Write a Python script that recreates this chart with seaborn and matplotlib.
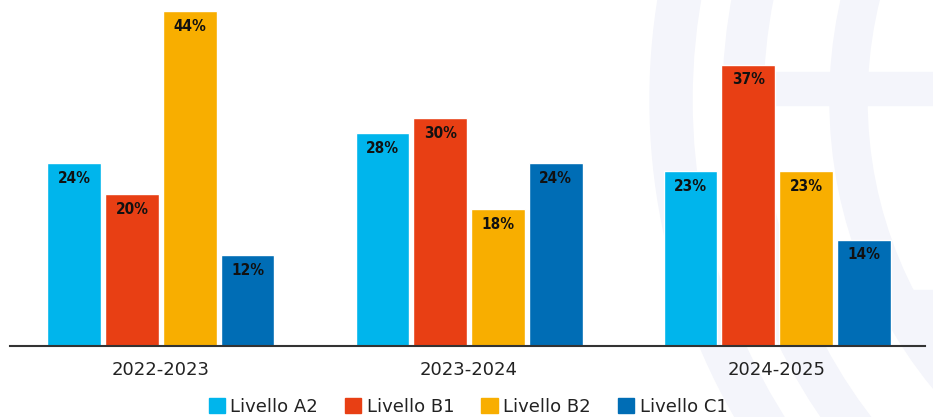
import matplotlib
matplotlib.use('Agg')
import matplotlib.pyplot as plt
from matplotlib.patches import Wedge, Rectangle
import seaborn as sns
import pandas as pd

# dati: percentuali per livello e anno
anni = ['2022-2023', '2023-2024', '2024-2025']
livelli = ['Livello A2', 'Livello B1', 'Livello B2', 'Livello C1']
a2 = [24, 28, 23]
b1 = [20, 30, 37]
b2 = [44, 18, 23]
c1 = [12, 24, 14]
colori = ['#00B5EC', '#E83F14', '#F8AE00', '#006DB5']

righe = []
for liv, vals in zip(livelli, [a2, b1, b2, c1]):
    for anno, v in zip(anni, vals):
        righe.append({'anno': anno, 'livello': liv, 'valore': v})
df = pd.DataFrame(righe)

sns.set_style('white')
plt.rcParams['font.family'] = ['DejaVu Sans']

fig = plt.figure(figsize=(9.33, 4.17), dpi=100)

# filigrana di sfondo (archi chiari), dietro al grafico
wm = '#F4F5FB'
for r, w in [(634, 42), (561, 40), (454, 37)]:
    fig.patches.append(Wedge((1284, 317), r, 90, 270, width=w, color=wm,
                             transform=None, zorder=-2))
fig.patches.append(Rectangle((763, 312), 180, 33, color=wm, transform=None, zorder=-2))
fig.patches.append(Rectangle((895, 94), 45, 33, color=wm, transform=None, zorder=-2))

ax = fig.add_axes([10 / 933, 71 / 417, 915 / 933, 346 / 417])
ax.set_facecolor('none')

sns.barplot(data=df, x='anno', y='valore', hue='livello', hue_order=livelli,
            order=anni, palette=colori, width=0.75, gap=0.07, ax=ax,
            saturation=1, errorbar=None, legend=False)

for cont in ax.containers:
    for bar in cont:
        h = bar.get_height()
        ax.annotate(f'{h:.0f}%', (bar.get_x() + bar.get_width() / 2, h),
                    xytext=(0, -11), textcoords='offset points',
                    ha='center', va='center', fontsize=11, fontstretch='condensed',
                    fontweight='bold', color='#111111')

ax.set_xlim(-0.49, 2.48)
ax.set_ylim(0, 45.5)
ax.set_xlabel('')
ax.set_ylabel('')
ax.set_yticks([])
for s in ['top', 'right', 'left']:
    ax.spines[s].set_visible(False)
ax.spines['bottom'].set_color('#333333')
ax.spines['bottom'].set_linewidth(1.5)
ax.tick_params(axis='x', length=0, pad=11, labelsize=13, labelcolor='#222222')

handles = [Rectangle((0, 0), 1, 1, color=c) for c in colori]
fig.legend(handles, livelli, loc='center', bbox_to_anchor=(468 / 933, 10 / 417),
           ncol=4, frameon=False, fontsize=13, handlelength=0.9, handleheight=0.9,
           handletextpad=0.3, columnspacing=1.5, borderpad=0, labelcolor='#222222')

fig.savefig('out.png', dpi=100)
